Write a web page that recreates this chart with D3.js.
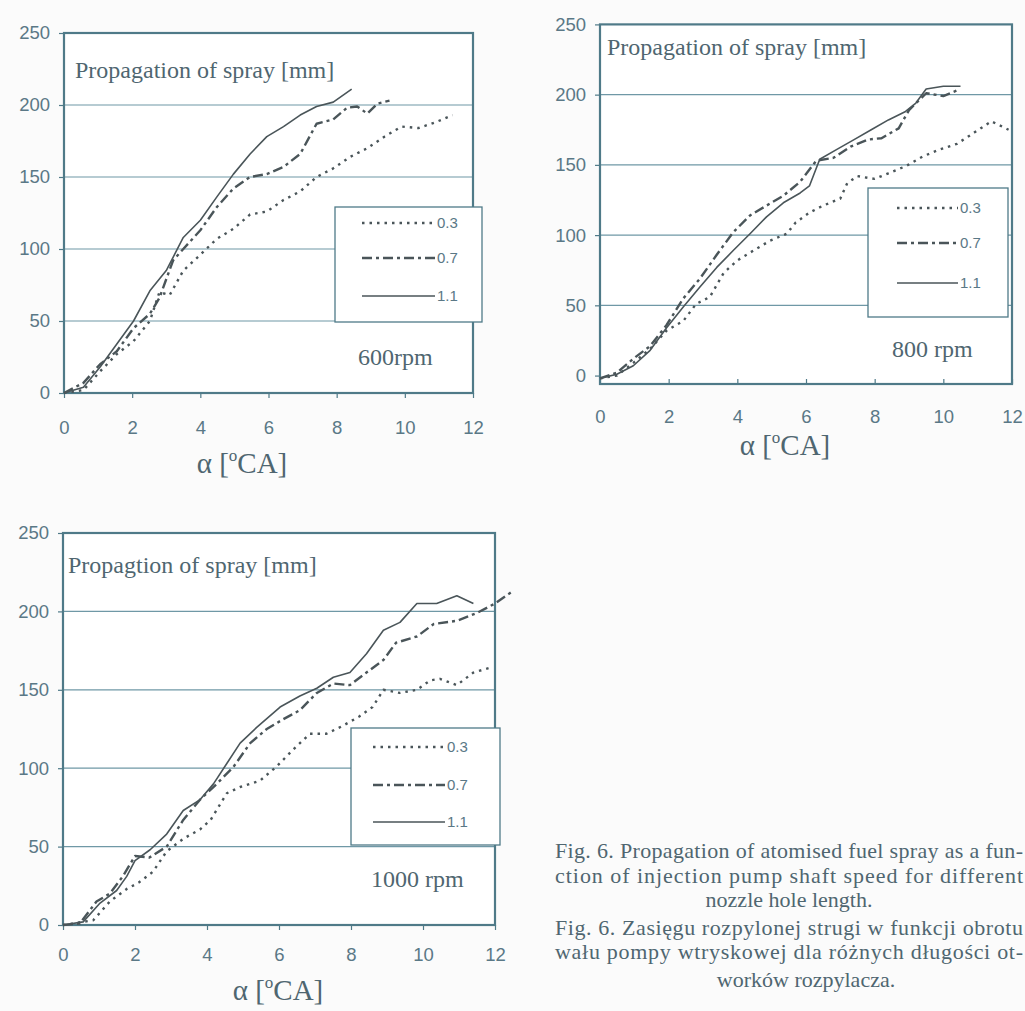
<!DOCTYPE html>
<html><head><meta charset="utf-8">
<script src="https://cdn.jsdelivr.net/npm/d3@7"></script>
<style>body{margin:0;background:#fbfbfb}svg{display:block}</style>
</head><body>
<svg id="c" width="1025" height="1011"></svg>
<script>
// ---------- data ----------
const X_TICKS = [0, 2, 4, 6, 8, 10, 12];
const Y_TICKS = [0, 50, 100, 150, 200, 250];
const GRID_VALUES = [50, 100, 150, 200];
const SERIES_LABELS = ["0.3", "0.7", "1.1"];
const PANEL_TITLES = ["Propagation of spray [mm]", "Propagation of spray [mm]", "Propagtion of spray [mm]"];
const SPEED_LABELS = ["600rpm", "800 rpm", "1000 rpm"];
const CAPTION_LINES = [
  "Fig. 6. Propagation of atomised fuel spray as a fun-",
  "ction of injection pump shaft speed for different",
  "nozzle hole length.",
  "Fig. 6. Zasięgu rozpylonej strugi w funkcji obrotu",
  "wału pompy wtryskowej dla różnych długości ot-",
  "worków rozpylacza."
];

// 600 rpm
const s600_03 = [[0,0],[0.57,2],[1.06,15],[1.55,27],[2.04,36],[2.52,50],[2.8,70],[3.1,68],[3.5,85],[4.0,96],[4.48,107],[4.97,114],[5.46,124],[5.95,126],[6.44,134],[6.93,140],[7.41,150],[7.9,156],[8.4,164],[8.9,170],[9.4,178],[9.9,185],[10.4,184],[10.9,188],[11.4,193]];
const s600_07 = [[0,0],[0.57,7],[1.06,20],[1.55,29],[2.04,45],[2.52,55],[2.8,66],[3.2,92],[3.5,100],[4.0,113],[4.48,129],[4.97,142],[5.46,150],[5.95,152],[6.44,157],[6.93,166],[7.41,187],[7.9,190],[8.3,198],[8.6,199],[8.9,194],[9.2,201],[9.55,203]];
const s600_11 = [[0,0],[0.57,4],[1.06,18],[1.55,34],[2.04,50],[2.52,71],[3.0,85],[3.5,108],[4.0,120],[4.48,136],[4.97,152],[5.46,166],[5.95,178],[6.44,185],[6.93,193],[7.41,199],[7.9,202],[8.44,211]];
// 800 rpm
const s800_03 = [[0,-2],[0.49,0],[0.97,9],[1.46,19],[1.94,32],[2.43,39],[2.8,51],[3.2,56],[3.6,73],[4.0,82],[4.47,89],[4.95,96],[5.44,101],[5.7,109],[6.1,116],[6.5,121],[7.0,126],[7.2,137],[7.5,142],[8.0,140],[8.4,144],[8.9,149],[9.4,156],[9.9,161],[10.4,165],[10.9,173],[11.4,181],[11.9,175]];
const s800_07 = [[0,-2],[0.49,2],[0.97,12],[1.46,21],[1.94,36],[2.43,55],[2.91,69],[3.4,86],[3.88,102],[4.37,114],[4.85,121],[5.34,128],[5.83,138],[6.3,153],[6.8,155],[7.3,163],[7.8,168],[8.2,169],[8.7,176],[9.0,189],[9.5,201],[10.0,199],[10.4,203]];
const s800_11 = [[0,-2],[0.49,1],[0.97,7],[1.46,18],[1.94,34],[2.43,49],[2.91,63],[3.4,77],[3.88,89],[4.37,101],[4.85,113],[5.34,123],[5.83,130],[6.1,135],[6.4,154],[6.9,161],[7.4,168],[7.9,175],[8.4,182],[8.9,188],[9.2,194],[9.5,204],[10.0,206],[10.5,206]];
// 1000 rpm
const s1000_03 = [[0,0],[0.84,3],[1.3,15],[1.77,23],[2.1,27],[2.5,34],[2.88,47],[3.34,55],[3.81,61],[4.1,67],[4.55,84],[4.92,88],[5.47,92],[5.93,101],[6.4,112],[6.86,122],[7.32,122],[7.77,127],[8.23,133],[8.6,139],[8.9,150],[9.36,148],[9.83,150],[10.2,156],[10.47,157],[10.94,153],[11.4,161],[11.85,164]];
const s1000_07 = [[0,0],[0.47,1],[0.93,15],[1.3,20],[1.66,31],[2.0,44],[2.4,43],[2.88,50],[3.34,67],[3.81,80],[4.27,90],[4.74,101],[5.2,116],[5.66,125],[6.1,131],[6.58,137],[7.05,148],[7.51,154],[7.97,153],[8.43,161],[8.9,169],[9.25,180],[9.83,184],[10.3,192],[10.94,194],[11.5,199],[12.0,205],[12.5,213]];
const s1000_11 = [[0,0],[0.56,2],[1.03,14],[1.49,22],[1.77,31],[2.0,41],[2.42,48],[2.88,58],[3.34,73],[3.81,80],[4.18,90],[4.55,103],[4.92,116],[5.38,126],[6.03,139],[6.58,146],[7.05,151],[7.51,158],[7.97,161],[8.43,173],[8.9,188],[9.36,193],[9.83,205],[10.38,205],[10.94,210],[11.4,205]];

// ---------- layout / style ----------
const BOX = "#4f7a88", GRID = "#6f98a6", TICKTXT = "#5a7886", TXT = "#4f6670", LINE = "#4a5559";
const SERIF = "'Liberation Serif','Times New Roman',serif";
const SANS = "'Liberation Sans',Arial,sans-serif";
const DASH = ["2.5,5", "10,4,3,4", null];
const WIDTH = [2.4, 2.4, 1.6];

const panels = [
  { series: [s600_03, s600_07, s600_11], xr: [64, 473], yd: [0, 250], yr: [393, 33], xpad: 23, xtick: 5,
    title: [75, 78], speed: [358, 365], axis: [242, 473],
    leg: { x: 335, y: 207, w: 147, h: 115, rows: [223, 258, 296], l0: 362, l1: 435 } },
  { series: [s800_03, s800_07, s800_11], xr: [600, 1012], yd: [-6, 251], yr: [384, 23], xpad: 26, xtick: -5,
    title: [607, 55], speed: [892, 357], axis: [785, 455],
    leg: { x: 868, y: 188, w: 140, h: 129, rows: [208, 243, 283], l0: 897, l1: 958 } },
  { series: [s1000_03, s1000_07, s1000_11], xr: [63, 495], yd: [0, 250], yr: [925, 533], xpad: 18, xtick: 5,
    title: [68, 573], speed: [371, 887], axis: [278, 1000],
    leg: { x: 351, y: 728, w: 149, h: 117, rows: [747, 785, 822], l0: 373, l1: 445 } }
];

const svg = d3.select("#c");
svg.append("rect").attr("width", 1025).attr("height", 1011).attr("fill", "#fbfbfb");

panels.forEach((p, pi) => {
  const x = d3.scaleLinear().domain([0, 12]).range(p.xr);
  const y = d3.scaleLinear().domain(p.yd).range(p.yr);
  const g = svg.append("g");

  g.append("rect").attr("x", x(0)).attr("y", y(250)).attr("width", x(12) - x(0)).attr("height", y(p.yd[0]) - y(250))
    .attr("fill", "#ffffff");

  g.selectAll(".grid").data(GRID_VALUES).join("line")
    .attr("x1", x(0)).attr("x2", x(12)).attr("y1", d => y(d)).attr("y2", d => y(d))
    .attr("stroke", GRID).attr("stroke-width", 1.2);

  const xa = g.append("g").attr("transform", `translate(0,${y(p.yd[0])})`)
    .call(d3.axisBottom(x).tickValues(X_TICKS).tickFormat(d3.format("d")).tickSize(p.xtick).tickPadding(p.xpad).tickSizeOuter(0));
  const ya = g.append("g").attr("transform", `translate(${x(0)},0)`)
    .call(d3.axisLeft(y).tickValues(Y_TICKS).tickFormat(d3.format("d")).tickSize(5).tickPadding(9).tickSizeOuter(0));
  [xa, ya].forEach(a => {
    a.select(".domain").remove();
    a.selectAll("line").attr("stroke", BOX).attr("stroke-width", 1.2);
    a.selectAll("text").attr("fill", TICKTXT).attr("font-family", SANS).attr("font-size", 18.5);
  });

  g.append("rect").attr("x", x(0)).attr("y", y(250)).attr("width", x(12) - x(0)).attr("height", y(p.yd[0]) - y(250))
    .attr("fill", "none").attr("stroke", BOX).attr("stroke-width", 2.2);

  const L = p.leg;
  g.append("rect").attr("x", L.x).attr("y", L.y).attr("width", L.w).attr("height", L.h)
    .attr("fill", "#ffffff").attr("stroke", BOX).attr("stroke-width", 1.3);

  const line = d3.line().x(d => x(d[0])).y(d => y(d[1]));
  p.series.forEach((s, si) => {
    g.append("path").datum(s).attr("d", line).attr("fill", "none")
      .attr("stroke", LINE).attr("stroke-width", WIDTH[si])
      .attr("stroke-dasharray", DASH[si]).attr("stroke-linejoin", "round");
  });

  SERIES_LABELS.forEach((lab, si) => {
    g.append("line").attr("x1", L.l0).attr("x2", L.l1).attr("y1", L.rows[si]).attr("y2", L.rows[si])
      .attr("stroke", LINE).attr("stroke-width", WIDTH[si]).attr("stroke-dasharray", DASH[si]);
    g.append("text").attr("x", L.l1 + 2).attr("y", L.rows[si] + 5).text(lab)
      .attr("font-family", SANS).attr("font-size", 15).attr("fill", TICKTXT);
  });

  g.append("text").attr("x", p.title[0]).attr("y", p.title[1]).text(PANEL_TITLES[pi])
    .attr("font-family", SERIF).attr("font-size", 24).attr("fill", TXT);
  g.append("text").attr("x", p.speed[0]).attr("y", p.speed[1]).text(SPEED_LABELS[pi])
    .attr("font-family", SERIF).attr("font-size", 24).attr("fill", TXT);
  const at = g.append("text").attr("x", p.axis[0]).attr("y", p.axis[1]).attr("text-anchor", "middle")
    .attr("font-family", SERIF).attr("font-size", 29).attr("fill", TXT);
  at.append("tspan").text("α [");
  at.append("tspan").text("o").attr("font-size", 17).attr("dy", -12);
  at.append("tspan").text("CA]").attr("dy", 12);
});

// caption
const capY = [858, 883, 907, 935, 959, 987];
const capJust = [true, true, false, true, true, false];
const capCenter = [null, null, 789, null, null, 806];
CAPTION_LINES.forEach((t, i) => {
  const tx = svg.append("text").attr("y", capY[i]).text(t)
    .attr("font-family", SERIF).attr("font-size", 22).attr("fill", TXT);
  if (capJust[i]) {
    tx.attr("x", 555).attr("textLength", 468).attr("lengthAdjust", "spacing");
  } else {
    tx.attr("x", capCenter[i]).attr("text-anchor", "middle");
  }
});
</script></body></html>
